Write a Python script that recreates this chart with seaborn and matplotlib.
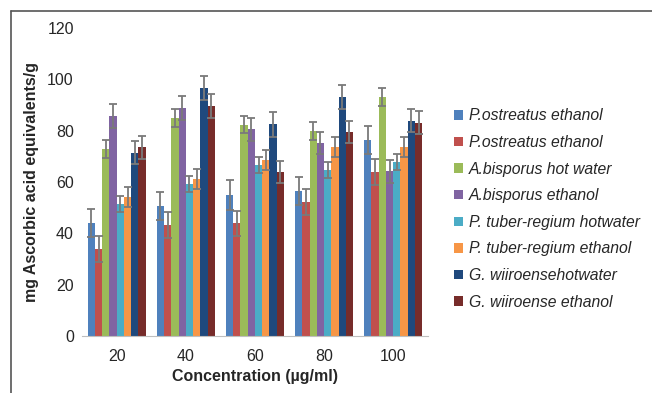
import numpy as np
import pandas as pd
import seaborn as sns
import matplotlib.pyplot as plt
from matplotlib.lines import Line2D

concentrations = ["20", "40", "60", "80", "100"]
extracts = [
    "P.ostreatus ethanol",
    "P.ostreatus ethanol ",
    "A.bisporus hot water",
    "A.bisporus ethanol",
    "P. tuber-regium hotwater",
    "P. tuber-regium ethanol",
    "G. wiiroensehotwater",
    "G. wiiroense ethanol",
]
colors = ["#4F81BD", "#C0504D", "#9BBB59", "#8064A2",
          "#4BACC6", "#F79646", "#1F497D", "#772C2A"]

# mean values per extract, one per concentration
means = [
    [43.9, 50.5, 54.9, 56.4, 76.4],
    [33.9, 43.2, 43.9, 52.2, 63.9],
    [72.8, 84.8, 82.3, 80.0, 93.2],
    [85.7, 88.8, 80.6, 75.2, 64.2],
    [51.5, 59.2, 66.7, 64.8, 67.7],
    [54.1, 61.0, 68.6, 73.5, 73.5],
    [71.3, 96.7, 82.5, 93.1, 83.8],
    [73.5, 89.6, 63.8, 79.5, 83.0],
]
errors = [
    [5.4, 5.5, 5.7, 5.5, 5.5],
    [5.0, 5.0, 4.9, 5.0, 5.0],
    [3.5, 3.5, 3.4, 3.5, 3.5],
    [4.5, 4.6, 4.5, 4.4, 4.5],
    [3.2, 3.0, 3.2, 3.1, 3.1],
    [4.0, 3.9, 4.0, 3.9, 3.9],
    [4.5, 4.6, 4.8, 4.7, 4.5],
    [4.5, 4.6, 4.4, 4.4, 4.5],
]

rows = []
for name, m, e in zip(extracts, means, errors):
    for c, v, s in zip(concentrations, m, e):
        rows.append({"conc": c, "extract": name, "value": v, "err": s})
df = pd.DataFrame(rows)

sns.set_style("white")
plt.rcParams["font.family"] = ["Liberation Sans", "DejaVu Sans"]

fig = plt.figure(figsize=(6.52, 3.93), dpi=100)
ax = fig.add_axes([0.126, 0.145, 0.530, 0.784])

sns.barplot(data=df, x="conc", y="value", hue="extract", order=concentrations,
            hue_order=extracts, palette=colors, errorbar=None, width=0.84,
            linewidth=0, saturation=1, ax=ax)

# error bars at the centre of each drawn bar
bar_groups = list(ax.containers)
for name, cont in zip(extracts, bar_groups):
    sub = df[df["extract"] == name]
    xs = [p.get_x() + p.get_width() / 2 for p in cont.patches]
    ax.errorbar(xs, sub["value"].values, yerr=sub["err"].values, fmt="none",
                ecolor="#7a7a7a", elinewidth=1.3, capsize=3, capthick=1.3)

ax.set_xlim(-0.5, len(concentrations) - 0.5)
ax.set_ylim(0, 120)
ax.set_yticks(range(0, 121, 20))
ax.tick_params(axis="both", length=0, labelsize=11.5, pad=6)
ax.tick_params(axis="x", pad=9)
for s in ["left", "top", "right"]:
    ax.spines[s].set_visible(False)
ax.spines["bottom"].set_color("#bfbfbf")
ax.set_xlabel("Concentration (\u00b5g/ml)", fontsize=11.5, fontweight="bold", labelpad=4)
ax.set_ylabel("mg Ascorbic acid equivalents/g", fontsize=11.5, fontweight="bold", labelpad=6)

handles, labels = ax.get_legend_handles_labels()
ax.legend(handles, labels, loc="center left", bbox_to_anchor=(0.675, 0.468),
          bbox_transform=fig.transFigure, frameon=False, prop={"style": "italic", "size": 11.3},
          handlelength=0.55, handleheight=0.55, handletextpad=0.4, labelspacing=0.74)

# outer frame (top and left edges)
fig.add_artist(Line2D([0.017, 1.0], [0.971, 0.971], color="#555555", lw=1.2))
fig.add_artist(Line2D([0.017, 0.017], [0.0, 0.971], color="#555555", lw=1.2))

fig.savefig("out.png", dpi=100)
